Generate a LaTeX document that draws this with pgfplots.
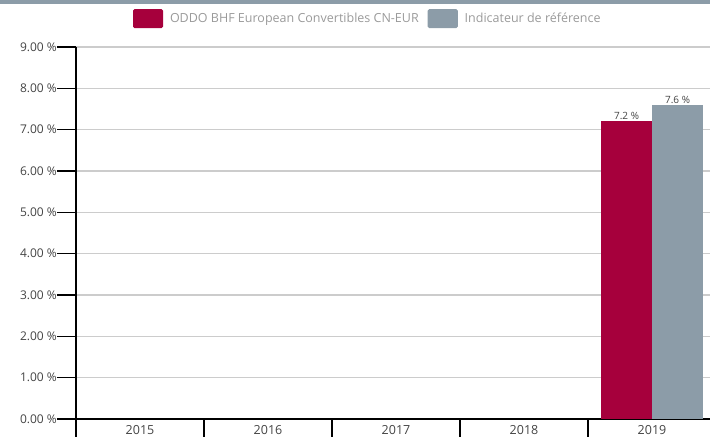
\documentclass[border=0pt]{standalone}
\usepackage{pgfplots}
\pgfplotsset{compat=1.18}
\usepackage{fontspec}
\setmainfont{Open Sans}
\definecolor{crim}{HTML}{A6003C}
\definecolor{bgray}{HTML}{8C9CA8}
\definecolor{txt}{HTML}{444444}
\definecolor{legtxt}{HTML}{9A9A9A}
\begin{document}
\begin{tikzpicture}
\useasboundingbox (0,0) rectangle (710bp,437bp);
\fill[bgray] (0,433bp) rectangle (710bp,437bp);
\begin{axis}[
 at={(76bp,18bp)}, anchor=south west,
 scale only axis, width=634bp, height=372bp,
 xmin=-0.5, xmax=4.453, ymin=0, ymax=9,
 enlargelimits=false,
 ybar=0pt, bar width=51bp,
 axis lines*=left,
 axis line style={line width=1.5bp, black},
 xtick={-0.5,0.5,1.5,2.5,3.5},
 xticklabels={,,,,},
 extra x ticks={0,1,2,3,4},
 extra x tick labels={2015,2016,2017,2018,2019},
 extra x tick style={major tick length=0pt, grid=none,
   tick label style={yshift=-6bp}},
 ytick={0,...,9},
 tick align=outside,
 major tick length=19bp,
 xtick style={black, line width=1.2bp},
 ytick style={black, line width=1.5bp},
 ymajorgrids, grid style={color=black!20, line width=1.2bp},
 /pgf/number format/assume math mode=true,
 yticklabel={\pgfmathprintnumber[fixed,fixed zerofill,precision=2]{\tick}~\%},
 tick label style={font=\fontsize{12.5bp}{14bp}\selectfont, text=txt},
 y tick label style={inner sep=0pt, xshift=0bp, font=\fontsize{12bp}{14bp}\selectfont},
 x tick label style={inner sep=0pt},
 legend columns=2,
 legend style={at={(axis description cs:0.0899,1.102)}, anchor=north west,
   draw=none, fill=none, inner sep=0pt, outer sep=0pt,
   nodes={inner sep=0pt, anchor=west, font=\fontsize{12.5bp}{14bp}\selectfont, text=legtxt},
   /tikz/every odd column/.append style={column sep=7bp},
   /tikz/every even column/.append style={column sep=9bp}},
 nodes near coords={\pgfmathprintnumber[fixed,precision=1]{\pgfplotspointmeta}~\%},
 nodes near coords style={font=\fontsize{10bp}{11bp}\selectfont, text=txt, inner sep=1.5bp},
]
\addplot[fill=crim, draw=none,
  legend image code/.code={\fill[crim, rounded corners=1.5bp] (0bp,-9.5bp) rectangle (30bp,9.5bp);}]
  coordinates {(4,7.2)};
\addlegendentry{ODDO BHF European Convertibles CN-EUR}
\addplot[fill=bgray, draw=none,
  legend image code/.code={\fill[bgray, rounded corners=1.5bp] (0bp,-9.5bp) rectangle (30bp,9.5bp);}]
  coordinates {(4,7.6)};
\addlegendentry{Indicateur de référence}
\end{axis}
\end{tikzpicture}
\end{document}
